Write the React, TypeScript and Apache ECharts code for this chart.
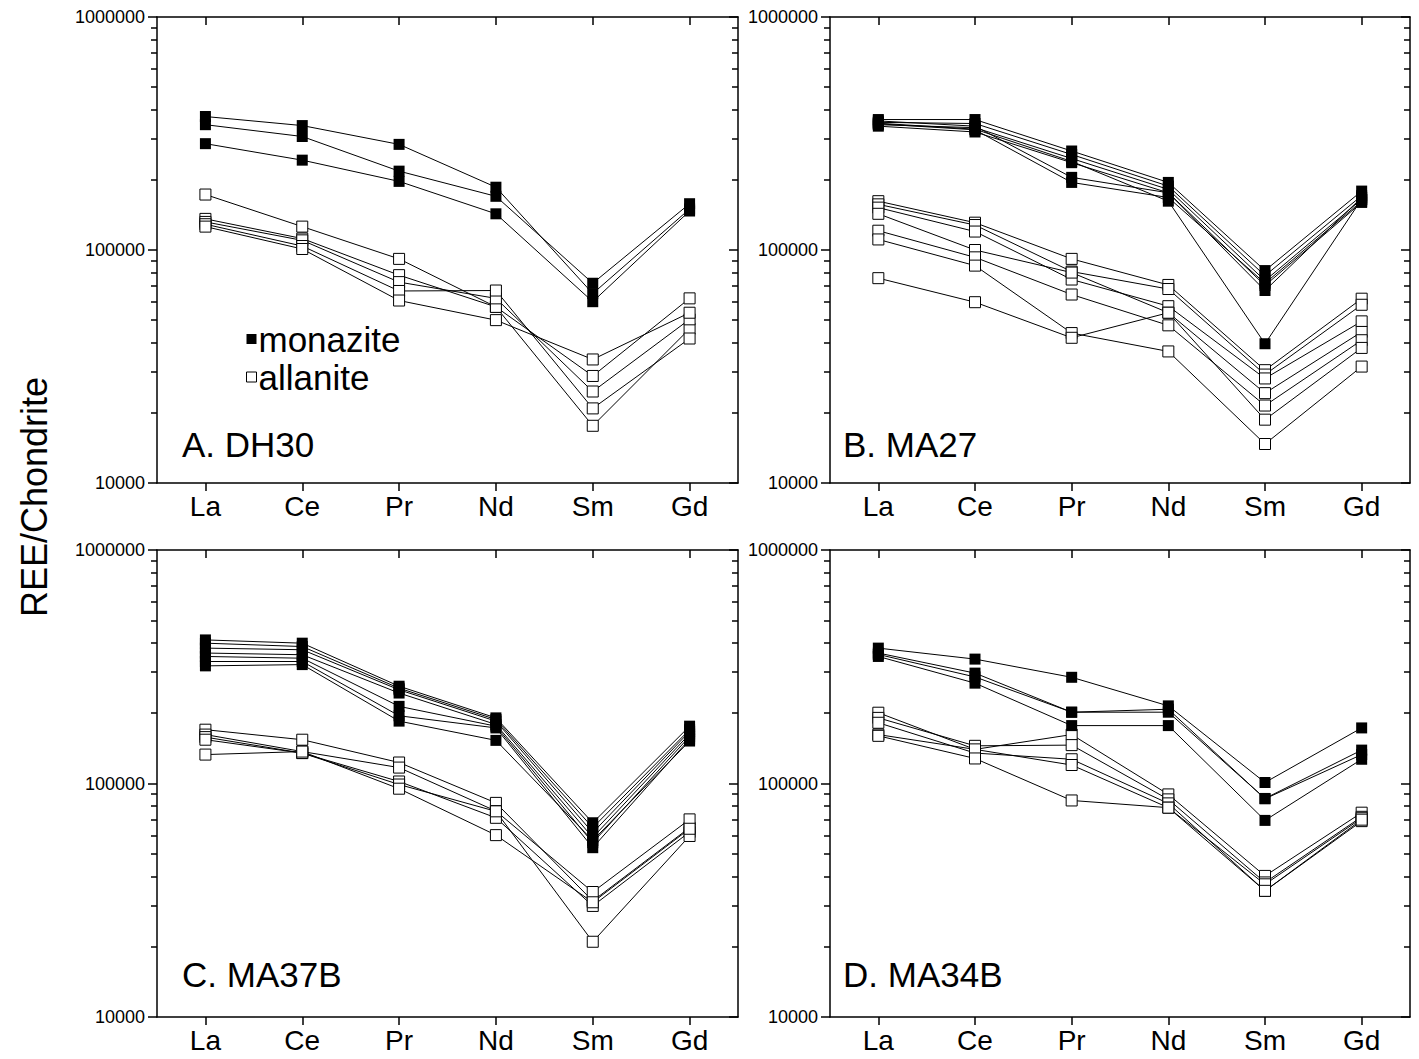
import React, { useEffect, useRef } from "react";
import * as echarts from "echarts";

// ---------- data ----------
const categories = ["La", "Ce", "Pr", "Nd", "Sm", "Gd"];
const yMin = 10000;
const yMax = 1000000;
const minorTickValues = [
  20000, 30000, 40000, 50000, 60000, 70000, 80000, 90000,
  200000, 300000, 400000, 500000, 600000, 700000, 800000, 900000,
];
const panelTitles = ["A. DH30", "B. MA27", "C. MA37B", "D. MA34B"];
const legendNames = ["monazite", "allanite"];

// Panel A: DH30
const dh30Monazite = [
  [374000, 342000, 284000, 186000, 65000, 150000],
  [345000, 307000, 218000, 170000, 72000, 158000],
  [286000, 243000, 197000, 143000, 60000, 147000],
];
const dh30Allanite = [
  [173000, 126000, 91600, 57000, 17600, 45900],
  [136000, 112000, 78000, 57000, 28800, 62000],
  [132000, 110000, 72800, 62000, 24700, 50400],
  [129000, 104000, 66700, 67000, 20900, 41700],
  [126000, 101000, 60700, 50000, 33900, 53800],
];

// Panel B: MA27
const ma27Monazite = [
  [363000, 363000, 266000, 195000, 81600, 179000],
  [353000, 349000, 257000, 188000, 77600, 171000],
  [345000, 335000, 247000, 182000, 73900, 165000],
  [340000, 321000, 237000, 176000, 70400, 160000],
  [358000, 340000, 205000, 176000, 67000, 168000],
  [348000, 328000, 195000, 168000, 72000, 162000],
  [350000, 330000, 240000, 162000, 39600, 165000],
];
const ma27Allanite = [
  [162000, 131000, 91600, 70800, 30500, 61800],
  [157000, 128000, 80800, 68000, 29200, 58200],
  [152000, 120000, 74700, 57400, 28100, 49400],
  [143000, 100000, 80000, 53800, 24300, 44500],
  [121000, 93000, 64400, 47500, 21500, 41000],
  [111000, 85700, 44000, 36700, 14700, 31600],
  [75700, 59700, 42000, 53800, 18700, 38000],
];

// Panel C: MA37B
const ma37bMonazite = [
  [412000, 399000, 261000, 191000, 67900, 176000],
  [399000, 386000, 256000, 188000, 64700, 170000],
  [380000, 374000, 252000, 185000, 61600, 167000],
  [362000, 356000, 244000, 179000, 58700, 163000],
  [350000, 344000, 214000, 176000, 55800, 159000],
  [333000, 333000, 195000, 173000, 53100, 155000],
  [319000, 323000, 185000, 153000, 57000, 152000],
];
const ma37bAllanite = [
  [170000, 154000, 123000, 82600, 31400, 64700],
  [162000, 137000, 117000, 76200, 34300, 70200],
  [158000, 135000, 102000, 71300, 29900, 62000],
  [154000, 135000, 99000, 76000, 21000, 59600],
  [133000, 137000, 95000, 60100, 31000, 64000],
];

// Panel D: MA34B
const ma34bMonazite = [
  [380000, 341000, 285000, 215000, 101000, 173000],
  [362000, 297000, 202000, 202000, 86300, 139000],
  [350000, 269000, 177000, 177000, 69500, 127000],
  [357000, 286000, 202000, 208000, 86000, 133000],
];
const ma34bAllanite = [
  [201000, 140000, 162000, 89800, 40200, 75000],
  [191000, 145000, 146000, 85500, 37700, 72000],
  [182000, 135000, 127000, 82200, 34700, 69000],
  [162000, 140000, 120000, 78800, 37000, 71000],
  [160000, 128000, 84600, 78800, 34700, 70000],
];

const panelMonazite = [dh30Monazite, ma27Monazite, ma37bMonazite, ma34bMonazite];
const panelAllanite = [dh30Allanite, ma27Allanite, ma37bAllanite, ma34bAllanite];

// ---------- layout ----------
const FONT = "'Liberation Sans', Arial, Helvetica, sans-serif";
const grids = [
  { left: 157, top: 17, width: 581, height: 466 },
  { left: 830, top: 17, width: 580, height: 466 },
  { left: 157, top: 550, width: 581, height: 467 },
  { left: 830, top: 550, width: 580, height: 467 },
];
const titlePos = [
  [182, 444],
  [843, 444],
  [182, 974],
  [843, 974],
];

function buildOption() {
  const axisColor = "#000";
  const xAxis: any[] = [];
  const yAxis: any[] = [];
  const series: any[] = [];
  const graphic: any[] = [];

  grids.forEach((g, i) => {
    xAxis.push({
      gridIndex: i,
      type: "category",
      data: categories,
      boundaryGap: true,
      position: "bottom",
      axisLine: { show: true, lineStyle: { color: axisColor, width: 1.5 } },
      axisTick: { show: true, alignWithLabel: true, inside: false, length: 8, lineStyle: { color: axisColor, width: 1.5 } },
      axisLabel: { color: "#000", fontSize: 28, fontFamily: FONT, margin: 9 },
      splitLine: { show: false },
    });
    xAxis.push({
      gridIndex: i,
      type: "category",
      data: categories,
      boundaryGap: true,
      position: "top",
      axisLine: { show: true, lineStyle: { color: axisColor, width: 1.5 } },
      axisTick: { show: true, alignWithLabel: true, inside: true, length: 8, lineStyle: { color: axisColor, width: 1.5 } },
      axisLabel: { show: false },
      splitLine: { show: false },
    });
    const baseY = {
      gridIndex: i,
      type: "log",
      logBase: 10,
      min: yMin,
      max: yMax,
      splitLine: { show: false },
      minorTick: { show: false },
      minorSplitLine: { show: false },
    };
    // left major
    yAxis.push({
      ...baseY,
      position: "left",
      axisLine: { show: true, lineStyle: { color: axisColor, width: 1.5 } },
      axisTick: { show: true, inside: false, length: 9, lineStyle: { color: axisColor, width: 1.5 } },
      axisLabel: {
        show: true,
        color: "#000",
        fontSize: 18,
        fontFamily: FONT,
        margin: 12,
        formatter: (v: number) => String(Math.round(v)),
      },
    });
    // left minor
    yAxis.push({
      ...baseY,
      position: "left",
      axisLine: { show: false },
      axisTick: { show: true, inside: false, length: 6, customValues: minorTickValues, lineStyle: { color: axisColor, width: 1.5 } },
      axisLabel: { show: false },
    });
    // right major
    yAxis.push({
      ...baseY,
      position: "right",
      axisLine: { show: true, lineStyle: { color: axisColor, width: 1.5 } },
      axisTick: { show: true, inside: true, length: 9, lineStyle: { color: axisColor, width: 1.5 } },
      axisLabel: { show: false },
    });
    // right minor
    yAxis.push({
      ...baseY,
      position: "right",
      axisLine: { show: false },
      axisTick: { show: true, inside: true, length: 6, customValues: minorTickValues, lineStyle: { color: axisColor, width: 1.5 } },
      axisLabel: { show: false },
    });

    panelAllanite[i].forEach((row) => {
      series.push({
        type: "line",
        name: legendNames[1],
        xAxisIndex: i * 2,
        yAxisIndex: i * 4,
        data: row,
        symbol: "rect",
        symbolSize: 11,
        showSymbol: true,
        silent: true,
        lineStyle: { color: "#000", width: 1 },
        itemStyle: { color: "#fff", borderColor: "#000", borderWidth: 1 },
        emphasis: { disabled: true },
        z: 2,
      });
    });
    panelMonazite[i].forEach((row) => {
      series.push({
        type: "line",
        name: legendNames[0],
        xAxisIndex: i * 2,
        yAxisIndex: i * 4,
        data: row,
        symbol: "rect",
        symbolSize: 11,
        showSymbol: true,
        silent: true,
        lineStyle: { color: "#000", width: 1 },
        itemStyle: { color: "#000", borderColor: "#000", borderWidth: 0 },
        emphasis: { disabled: true },
        z: 3,
      });
    });

    graphic.push({
      type: "text",
      x: titlePos[i][0],
      y: titlePos[i][1],
      style: {
        text: panelTitles[i],
        fill: "#000",
        fontSize: 35,
        fontFamily: FONT,
        textAlign: "left",
        textVerticalAlign: "middle",
      },
    });
  });

  graphic.push({
    type: "text",
    x: 34,
    y: 497,
    rotation: Math.PI / 2,
    style: {
      text: "REE/Chondrite",
      fill: "#000",
      fontSize: 36,
      fontFamily: FONT,
      textAlign: "center",
      textVerticalAlign: "middle",
    },
  });

  return {
    animation: false,
    backgroundColor: "#fff",
    grid: grids.map((g) => ({ ...g, containLabel: false })),
    xAxis,
    yAxis,
    legend: {
      show: true,
      selectedMode: false,
      orient: "vertical",
      left: 246,
      top: 321,
      itemWidth: 10,
      itemHeight: 10,
      itemGap: 2,
      padding: 0,
      icon: "rect",
      textStyle: { color: "#000", fontSize: 35, fontFamily: FONT, lineHeight: 36, padding: [0, 0, 0, -3] },
      data: [
        { name: legendNames[0], icon: "rect", itemStyle: { color: "#000", borderWidth: 0 } },
        { name: legendNames[1], icon: "rect", itemStyle: { color: "#fff", borderColor: "#000", borderWidth: 1 } },
      ],
    },
    graphic,
    series,
  };
}

export default function App() {
  const ref = useRef<HTMLDivElement>(null);
  useEffect(() => {
    if (!ref.current) return;
    const chart = echarts.init(ref.current, undefined, { renderer: "svg" });
    chart.setOption(buildOption() as any);
    return () => chart.dispose();
  }, []);
  return (
    <div
      ref={ref}
      style={{ position: "fixed", left: 0, top: 0, width: 1419, height: 1059, background: "#fff" }}
    />
  );
}
